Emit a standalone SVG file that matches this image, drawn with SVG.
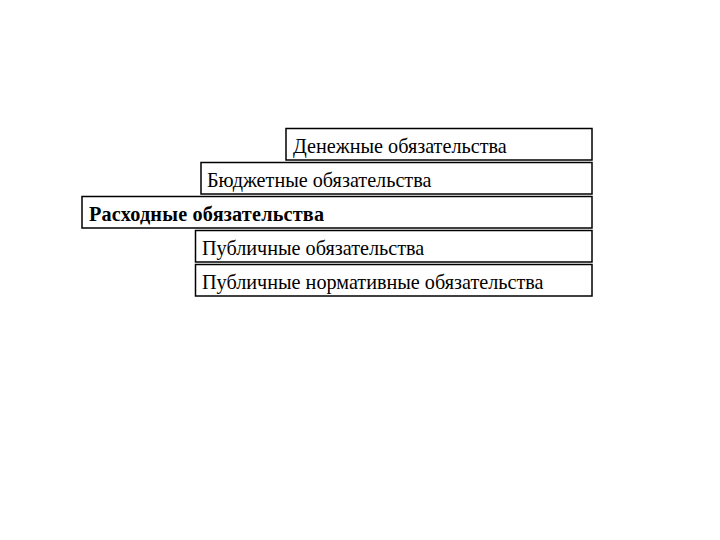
<svg xmlns="http://www.w3.org/2000/svg" width="720" height="540" viewBox="0 0 720 540">
<style>
.box{fill:#fff;stroke:#000;stroke-width:1.5}
text{font-family:"Liberation Serif","Times New Roman",serif;font-size:20.2px;fill:#000}
.b{font-weight:bold;letter-spacing:0.2px}
</style>
<rect width="720" height="540" fill="#fff"/>
<g id="n1"><rect class="box" x="286" y="128.5" width="306" height="31.5"/><text x="293" y="153">Денежные обязательства</text></g>
<g id="n2"><rect class="box" x="201" y="162.5" width="391" height="31.5"/><text x="207" y="187">Бюджетные обязательства</text></g>
<g id="n3"><rect class="box" x="82" y="196.5" width="510" height="31.5"/><text class="b" x="89" y="221">Расходные обязательства</text></g>
<g id="n4"><rect class="box" x="195.5" y="230.5" width="396.5" height="31.5"/><text x="202" y="255">Публичные обязательства</text></g>
<g id="n5"><rect class="box" x="195.5" y="264.5" width="396.5" height="31.5"/><text x="202" y="289">Публичные нормативные обязательства</text></g>
<g id="connectors"/>
</svg>
